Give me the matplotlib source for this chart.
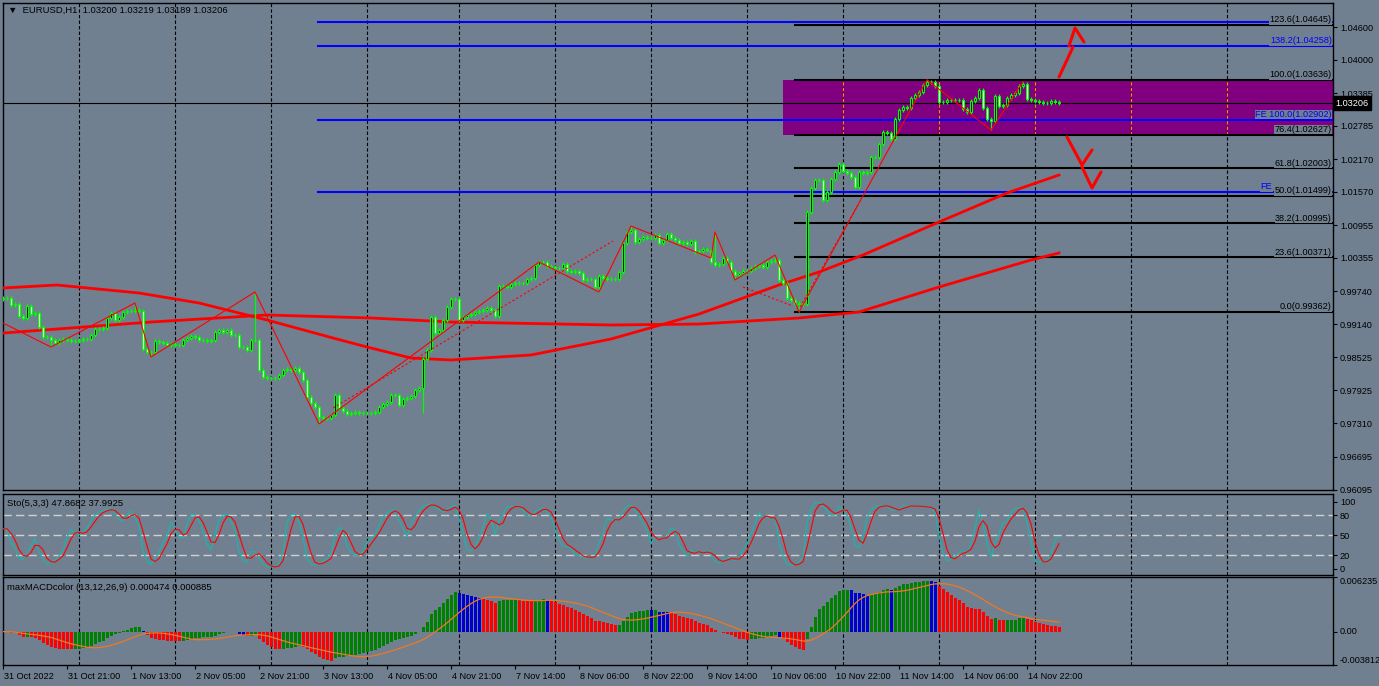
import numpy as np
import pandas as pd
import matplotlib
matplotlib.use('Agg')
import matplotlib.pyplot as plt
import matplotlib.transforms as mtransforms

plt.rcParams['font.family'] = ['Liberation Sans', 'DejaVu Sans']
plt.rcParams['font.size'] = 6.6

# ---- EURUSD H1 closes, bar 0 = 31 Oct 05:00 ----
closes = [
    0.99619, 0.99619, 0.99490, 0.99508, 0.99288, 0.99251, 0.99472, 0.99324, 0.99343, 0.99085,
    0.98901, 0.98901, 0.98846, 0.98791, 0.98846, 0.98864, 0.98846, 0.98828, 0.98828, 0.98846,
    0.98864, 0.98864, 0.98938, 0.99048, 0.99048, 0.99067, 0.99251, 0.99343, 0.99214, 0.99269,
    0.99361, 0.99380, 0.99380, 0.99398, 0.99380, 0.98680, 0.98625, 0.98625, 0.98828, 0.98809,
    0.98791, 0.98754, 0.98772, 0.98754, 0.98754, 0.98846, 0.98883, 0.98919, 0.98901, 0.98846,
    0.98846, 0.98828, 0.98846, 0.98993, 0.99030, 0.98993, 0.99030, 0.98938, 0.98938, 0.98717,
    0.98717, 0.98662, 0.98846, 0.98846, 0.98294, 0.98165, 0.98147, 0.98147, 0.98147, 0.98202,
    0.98294, 0.98312, 0.98294, 0.98330, 0.98257, 0.98110, 0.97797, 0.97687, 0.97613, 0.97429,
    0.97411, 0.97411, 0.97466, 0.97834, 0.97595, 0.97540, 0.97484, 0.97503, 0.97521, 0.97503,
    0.97503, 0.97503, 0.97503, 0.97521, 0.97613, 0.97668, 0.97705, 0.97834, 0.97834, 0.97650,
    0.97760, 0.97779, 0.97816, 0.97926, 0.97963, 0.98496, 0.98662, 0.99269, 0.98974, 0.99030,
    0.99214, 0.99453, 0.99600, 0.99600, 0.99214, 0.99269, 0.99306, 0.99324, 0.99361, 0.99380,
    0.99398, 0.99435, 0.99398, 0.99288, 0.99840, 0.99840, 0.99821, 0.99876, 0.99895, 0.99895,
    0.99895, 0.99969, 0.99987, 1.00226, 1.00281, 1.00281, 1.00208, 1.00189, 1.00171, 1.00171,
    1.00244, 1.00116, 1.00097, 1.00116, 1.00079, 0.99950, 0.99969, 0.99969, 0.99821, 1.00024,
    0.99987, 0.99969, 0.99969, 0.99969, 1.00097, 1.00631, 1.00833, 1.00870, 1.00649, 1.00704,
    1.00741, 1.00723, 1.00723, 1.00778, 1.00631, 1.00686, 1.00796, 1.00723, 1.00686, 1.00631,
    1.00649, 1.00612, 1.00668, 1.00465, 1.00484, 1.00520, 1.00502, 1.00281, 1.00226, 1.00244,
    1.00355, 1.00281, 1.00116, 1.00042, 1.00079, 1.00116, 1.00116, 1.00171, 1.00208, 1.00226,
    1.00189, 1.00281, 1.00300, 1.00318, 0.99950, 0.99895, 0.99619, 0.99582, 0.99508, 0.99527,
    0.99508, 1.01201, 1.01643, 1.01790, 1.01790, 1.01422, 1.01569, 1.01808, 1.01937, 1.02084,
    1.01956, 1.01919, 1.01845, 1.01661, 1.01937, 1.01919, 1.01937, 1.02213, 1.02213, 1.02452,
    1.02673, 1.02655, 1.02544, 1.02912, 1.03078, 1.03133, 1.03115, 1.03299, 1.03354, 1.03409,
    1.03538, 1.03593, 1.03593, 1.03520, 1.03225, 1.03225, 1.03262, 1.03262, 1.03262, 1.03262,
    1.03096, 1.03041, 1.03244, 1.03299, 1.03446, 1.03115, 1.02912, 1.02876, 1.03336, 1.03152,
    1.03170, 1.03299, 1.03354, 1.03391, 1.03520, 1.03556, 1.03280, 1.03262, 1.03244, 1.03225,
    1.03207, 1.03207, 1.03244, 1.03225, 1.03206,
]
first_open = 0.99600
wick = 0.0004
high_fix = {33: 0.99527, 63: 0.99730, 157: 1.00944, 178: 1.00833, 193: 1.00410,
            231: 1.03636, 255: 1.03600}
low_fix = {12: 0.98717, 37: 0.98533, 79: 0.97301, 105: 0.97503, 149: 0.99730, 183: 0.99950,
           199: 0.99362, 247: 1.02710}

# moving averages (bar, price)
ma_fast_x = [0, 13.5, 34, 49, 66, 82.5, 91, 102, 112, 132, 152, 174, 194, 204, 215, 234, 251, 264]
ma_fast_y = [0.99803, 0.99858, 0.99711, 0.99527, 0.99214, 0.98883, 0.98717, 0.98515, 0.98478,
             0.98570, 0.98864, 0.99324, 0.99858, 1.00097, 1.00410, 1.01017, 1.01551, 1.01882]
ma_slow_x = [0, 37, 66, 92, 112, 152, 174, 199, 214, 234, 257, 264]
ma_slow_y = [0.98974, 0.99177, 0.99306, 0.99251, 0.99177, 0.99122, 0.99140, 0.99251,
             0.99361, 0.99821, 1.00318, 1.00447]

# zigzag swing points
zz_x = [0, 12, 33, 37, 63, 79, 134, 149, 157, 177, 178, 183, 193, 199, 231, 247, 255]
zz_y = [0.99159, 0.98717, 0.99527, 0.98533, 0.99730, 0.97301, 1.00281, 0.99730, 1.00944,
        1.00355, 1.00833, 0.99950, 1.00410, 0.99362, 1.03636, 1.02710, 1.03600]
chan_lines = [([82.5, 152.5], [0.97595, 1.00668]),
              ([185, 197.5], [0.99821, 0.99472]),
              ([199.25, 213.75], [0.99453, 1.01330])]

# fibo retracement
fib_start = 198
fib_levels = [1.04645, 1.03636, 1.02627, 1.02003, 1.01499, 1.00995, 1.00371, 0.99362]
fib_names = ['123.6', '100.0', '76.4', '61.8', '50.0', '38.2', '23.6', '0.0']
# fibo expansion (the 61.8 label is mostly covered by the 50.0 label, only "FE" shows)
fe_start = 78.75
fe_levels = [1.04697, 1.04258, 1.02902, 1.01569]
fe_texts = ['', '138.2(1.04258)', 'FE 100.0(1.02902)', 'FE']
fe_text_x = [332.2, 332.2, 332.2, 317.3]

zone_start, zone_lo, zone_hi = 195, 1.02627, 1.03636
last_price = 1.03206

arrow_up = [([264, 267.5], [1.03685, 1.04237]),
            ([266.5, 268, 270.25], [1.04256, 1.04587, 1.04329])]
arrow_dn = [([266, 269.75, 272.25], [1.02581, 1.02066, 1.02342]),
            ([269.75, 272.25, 274.5], [1.02029, 1.01643, 1.01937])]

price_ticks = [1.04600, 1.04000, 1.03385, 1.02785, 1.02170, 1.01570, 1.00955, 1.00355,
               0.99740, 0.99140, 0.98525, 0.97925, 0.97310, 0.96695, 0.96095]
grid_bars = [19, 43, 67, 91, 114, 138, 162, 186, 210, 234, 258, 282, 306]
date_bars = list(range(0, 257, 16))
date_labels = ['31 Oct 2022', '31 Oct 21:00', '1 Nov 13:00', '2 Nov 05:00', '2 Nov 21:00',
               '3 Nov 13:00', '4 Nov 05:00', '4 Nov 21:00', '7 Nov 14:00', '8 Nov 06:00',
               '8 Nov 22:00', '9 Nov 14:00', '10 Nov 06:00', '10 Nov 22:00', '11 Nov 14:00',
               '14 Nov 06:00', '14 Nov 22:00']

BG = '#708090'
LIME = '#00ff00'
W, H = 1379, 686

# ---- build OHLC ----
c = np.array(closes)
n = len(c)
x = np.arange(n)
o = np.concatenate([[first_open], c[:-1]])
hi = np.maximum(o, c) + wick
lo = np.minimum(o, c) - wick
for k, v in high_fix.items():
    hi[k] = v
for k, v in low_fix.items():
    lo[k] = v

# stochastic 5,3,3
hs, ls, cs = pd.Series(hi), pd.Series(lo), pd.Series(c)
ll = ls.rolling(5, min_periods=1).min()
hh = hs.rolling(5, min_periods=1).max()
sto_main = 100 * (cs - ll).rolling(3, min_periods=1).sum() / (hh - ll).rolling(3, min_periods=1).sum()
sto_sig = sto_main.rolling(3, min_periods=1).mean()

# macd 12,26 with a 13-bar signal
macd = cs.ewm(span=12, adjust=False).mean() - cs.ewm(span=26, adjust=False).mean()
macd_sig = macd.rolling(13, min_periods=1).mean()
cols = []
for i in range(n):
    if i > 0 and macd[i] > macd[i - 1]:
        cols.append('#008000')
    elif macd[i] > macd_sig[i]:
        cols.append('#0000cc')
    else:
        cols.append('#ff0000')

fig = plt.figure(figsize=(W / 100, H / 100), dpi=100, facecolor=BG)


def box(top, bottom):
    return [3 / W, 1 - bottom / H, 1330 / W, (bottom - top) / H]


ax1 = fig.add_axes(box(3, 490))
ax2 = fig.add_axes(box(494, 575))
ax3 = fig.add_axes(box(577, 665))

for ax in (ax1, ax2, ax3):
    ax.set_facecolor(BG)
    ax.set_xlim(0, 332.5)
    for s in ax.spines.values():
        s.set_color('black')
        s.set_linewidth(1)
    ax.yaxis.tick_right()
    ax.tick_params(axis='y', direction='out', length=3, width=0.8, colors='black', pad=2,
                   labelsize=6.6)
    ax.tick_params(axis='x', bottom=False, labelbottom=False)
    for g in grid_bars:
        ax.axvline(g, color='black', lw=0.8, ls=(0, (3, 2)), zorder=1.5)

# ---- main panel ----
ax1.set_ylim(0.96086, 1.05047)
ax1.set_yticks(price_ticks)
ax1.set_yticklabels(['%.5f' % v for v in price_ticks])

ax1.fill_between([zone_start, 332.5], zone_lo, zone_hi, color='#800080', lw=0, zorder=1)
ax1.vlines([g for g in grid_bars if g > zone_start], zone_lo, zone_hi, color='#ff8c00',
           lw=0.8, linestyles=[(0, (3, 2))], zorder=2)
ax1.axhline(last_price, color='black', lw=0.8, zorder=2)

for lev in fe_levels:
    ax1.plot([fe_start, 332.5], [lev, lev], color='#0000ff', lw=1.5, zorder=3)
for lev in fib_levels:
    ax1.plot([fib_start, 332.5], [lev, lev], color='black', lw=1.5, zorder=3)

ax1.plot(ma_slow_x, ma_slow_y, color='red', lw=2, zorder=4)
ax1.plot(ma_fast_x, ma_fast_y, color='red', lw=2, zorder=4)

bull = c >= o
ax1.vlines(x, lo, hi, color=LIME, lw=0.9, zorder=5)
ax1.bar(x, np.maximum(np.abs(c - o), 0.00004), bottom=np.minimum(o, c), width=0.7,
        color=np.where(bull, 'black', 'white'), edgecolor=LIME, linewidth=0.8, zorder=6)

ax1.plot(zz_x, zz_y, color='red', lw=0.8, zorder=7)
for xs, ys in chan_lines:
    ax1.plot(xs, ys, color='red', lw=0.8, ls=(0, (2, 2)), zorder=7)
for xs, ys in arrow_up + arrow_dn:
    ax1.plot(xs, ys, color='red', lw=2.2, solid_capstyle='round', zorder=8)

lab_bbox = dict(facecolor=BG, edgecolor='none', pad=0.3)
for lev, txt, tx in zip(fe_levels, fe_texts, fe_text_x):
    if txt:
        ax1.text(tx, lev + 0.0001, txt, color='#0000ff', ha='right', va='bottom',
                 bbox=lab_bbox, zorder=9)
for lev, nm in zip(fib_levels, fib_names):
    ax1.text(332.2, lev + 0.0001, '%s(%.5f)' % (nm, lev), color='black', ha='right',
             va='bottom', bbox=lab_bbox, zorder=10)

trans = mtransforms.blended_transform_factory(ax1.transAxes, ax1.transData)
ax1.text(1.002, last_price, '%.5f' % last_price, transform=trans, color='white',
         ha='left', va='center', clip_on=False, zorder=11,
         bbox=dict(facecolor='black', edgecolor='black', pad=1.6))

fig.text(8 / W, 1 - 10 / H, '\u25bc  EURUSD,H1  1.03200 1.03219 1.03189 1.03206',
         color='black', va='center', ha='left', fontsize=6.8)

# ---- stochastic panel ----
ax2.set_ylim(-9.4, 111.5)
ax2.set_yticks([0, 20, 50, 80, 100])
ax2.set_yticklabels(['0', '20', '50', '80', '100'])
for lev in (20, 50, 80):
    ax2.axhline(lev, color='#d0d0d0', lw=1, ls=(0, (6, 3)), zorder=1)
ax2.plot(x, sto_main, color='#20b2aa', lw=0.9, zorder=3)
ax2.plot(x, sto_sig, color='red', lw=0.8, zorder=4)
fig.text(7 / W, 1 - 504 / H, 'Sto(5,3,3) 47.8682 37.9925', color='black', va='center',
         fontsize=6.8)

# ---- macd panel ----
ax3.set_ylim(-0.003812, 0.006235)
ax3.set_yticks([-0.003812, 0.0, 0.006235])
ax3.set_yticklabels(['-0.003812', '0.00', '0.006235'])
for lbl, va in zip(ax3.get_yticklabels(), ['bottom', 'center', 'top']):
    lbl.set_va(va)
ax3.bar(x, macd, width=0.75, color=cols, zorder=3)
ax3.plot(x, macd_sig, color='#f07820', lw=0.9, zorder=4)
fig.text(7 / W, 1 - 587 / H, 'maxMACDcolor (13,12,26,9) 0.000474 0.000885', color='black',
         va='center', fontsize=6.8)

ax3.tick_params(axis='x', bottom=True, labelbottom=True, direction='out', length=3,
                width=0.8, colors='black', pad=2, labelsize=6.6)
ax3.set_xticks(date_bars)
ax3.set_xticklabels(date_labels, ha='left')
offset = mtransforms.ScaledTranslation(1.5 / 100, 0, fig.dpi_scale_trans)
for lbl in ax3.get_xticklabels():
    lbl.set_transform(lbl.get_transform() + offset)

fig.savefig('out.png', dpi=100, facecolor=BG)
